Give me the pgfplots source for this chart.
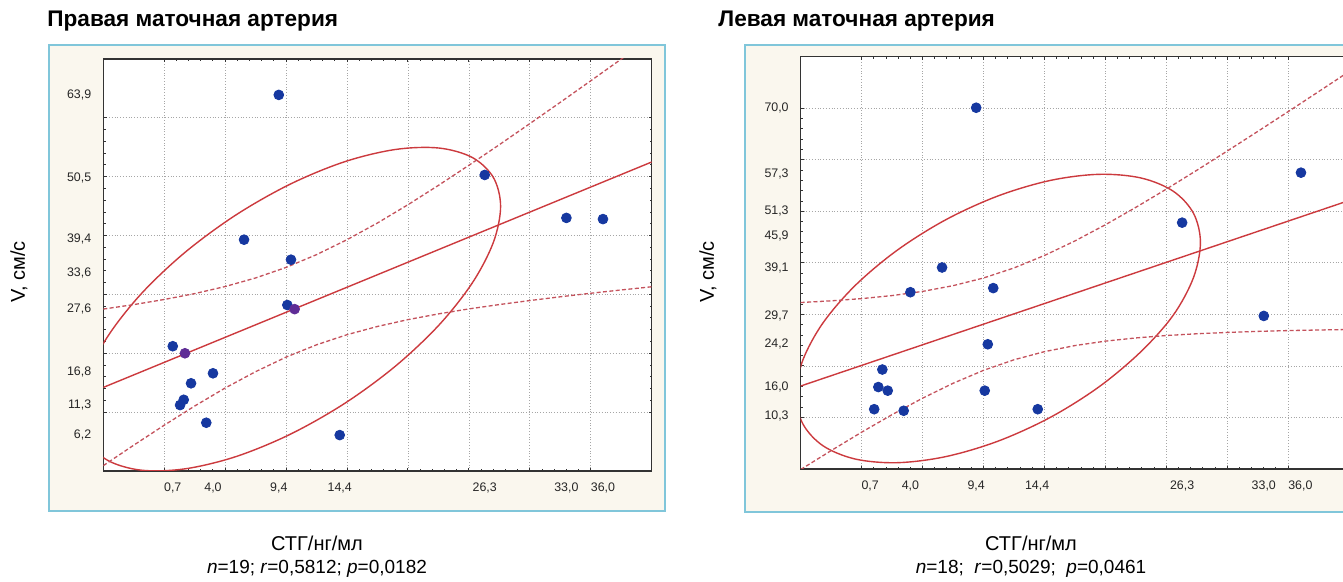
\documentclass[border=0pt]{standalone}
\usepackage{fontspec}
\setmainfont{Liberation Sans}
\usepackage{pgfplots}
\pgfplotsset{compat=1.18}
\definecolor{redline}{RGB}{204,58,62}
\definecolor{reddash}{RGB}{196,82,92}
\definecolor{dotblue}{RGB}{22,56,160}
\definecolor{dotpurple}{RGB}{95,45,150}
\definecolor{boxblue}{RGB}{128,198,218}
\definecolor{cream}{RGB}{250,247,238}
\pgfplotsset{
  statplot/.style={
    scale only axis, width=274.2pt,
    xmin=-5, xmax=40, ymin=0,
    xtick={0,5,...,35}, xticklabels={},
    yticklabels={},
    minor x tick num=4, minor y tick num=4,
    tick align=inside, major tick length=1.6pt, minor tick length=1.1pt,
    xmajorgrids, ymajorgrids,
    grid style={densely dotted, black!35, line width=0.4pt},
    axis line style={black!80, line width=0.7pt},
    tick style={black!80, line width=0.5pt},
    axis background/.style={fill=white},
    extra x ticks={0.7,4.0,9.4,14.4,26.3,33.0,36.0},
    extra x tick labels={{0,7},{4,0},{9,4},{14,4},{26,3},{33,0},{36,0}},
    extra x tick style={grid=none, major tick length=0pt, xticklabel style={yshift=-2.5pt}},
    extra y tick style={grid=none, major tick length=0pt, yticklabel style={xshift=-2.5pt}},
    ticklabel style={font=\fontsize{6.2}{7}\selectfont, text=black!85},
    clip=true,
  },
  regline/.style={redline, line width=0.7pt},
  bandline/.style={reddash, line width=0.65pt, dash pattern=on 2pt off 1.2pt},
  ellipse/.style={redline, line width=0.7pt, smooth cycle, tension=0.55},
  dots/.style={only marks, mark=*, mark size=2.45pt, color=dotblue},
}
\begin{document}
\begin{tikzpicture}
\useasboundingbox (0,0) rectangle (671.5pt,291pt);
\clip (0,0) rectangle (671.5pt,291pt);
% ---------- left panel ----------
\node[anchor=west, inner sep=0pt, font=\fontsize{11.3}{13}\selectfont\bfseries] at (23.5pt,280.5pt) {Правая маточная артерия};
\draw[boxblue, line width=1pt, fill=cream] (24.5pt,35.5pt) rectangle (332.5pt,268.25pt);
\node[rotate=90, font=\fontsize{10}{12}\selectfont] at (9.5pt,155pt) {V, см/с};
\node[font=\fontsize{10}{12}\selectfont] at (158.5pt,19.5pt) {СТГ/нг/мл};
\node[font=\fontsize{9.5}{11}\selectfont] at (158.5pt,6.5pt) {\textit{n}=19; \textit{r}=0,5812; \textit{p}=0,0182};
\begin{axis}[statplot, at={(51.65pt,55.5pt)}, anchor=south west, height=206pt,
  ymax=70, ytick={10,20,...,60},
  extra y ticks={6.2,11.3,16.8,27.6,33.6,39.4,49.8,63.9},
  extra y tick labels={{6,2},{11,3},{16,8},{27,6},{33,6},{39,4},{50,5},{63,9}},
]
\addplot[ellipse] coordinates {
(27.60,44.96) (27.01,49.86) (25.29,53.25) (22.55,54.87) (18.98,54.63) (14.81,52.55)
(10.35,48.75) (5.89,43.51) (1.72,37.17) (-1.85,30.19) (-4.59,23.01) (-6.31,16.14)
(-6.90,10.04) (-6.31,5.14) (-4.59,1.75) (-1.85,0.13) (1.72,0.37) (5.89,2.45)
(10.35,6.25) (14.81,11.49) (18.98,17.83) (22.55,24.81) (25.29,31.99) (27.01,38.86)};
\addplot[bandline] coordinates {
(-5,27.51) (-2.5,28.27) (0,29.14) (2.5,30.14) (5,31.34) (7.5,32.80) (10,34.59)
(12.5,36.76) (15,39.30) (17.5,42.14) (20,45.24) (22.5,48.53) (25,51.94) (27.5,55.44)
(30,59.02) (32.5,62.64) (35,66.30) (37.5,69.98) (40,73.70)};
\addplot[bandline] coordinates {
(-5,0.91) (-2.5,4.39) (0,7.78) (2.5,11.04) (5,14.10) (7.5,16.88) (10,19.35)
(12.5,21.44) (15,23.16) (17.5,24.56) (20,25.72) (22.5,26.69) (25,27.54) (27.5,28.28)
(30,28.96) (32.5,29.60) (35,30.20) (37.5,30.76) (40,31.30)};
\addplot[regline] coordinates {(-5,14.2) (40,52.5)};
\addplot[dots] coordinates {
(9.4,63.9) (6.55,39.3) (10.4,35.9) (10.1,28.2) (0.7,21.2) (2.2,14.9) (4.0,16.6)
(1.3,11.2) (1.6,12.1) (3.45,8.2) (14.4,6.1) (26.3,50.3) (33.0,43.0) (36.0,42.8)};
\addplot[dots, color=dotpurple] coordinates {(10.7,27.5) (1.7,20.0)};
\end{axis}
% ---------- right panel ----------
\node[anchor=west, inner sep=0pt, font=\fontsize{11.3}{13}\selectfont\bfseries] at (359pt,280.5pt) {Левая маточная артерия};
\draw[boxblue, line width=1pt, fill=cream] (372.5pt,35.15pt) rectangle (690pt,268.5pt);
\node[rotate=90, font=\fontsize{10}{12}\selectfont] at (354pt,155pt) {V, см/с};
\node[font=\fontsize{10}{12}\selectfont] at (515.5pt,19.5pt) {СТГ/нг/мл};
\node[font=\fontsize{9.5}{11}\selectfont] at (515.5pt,6.5pt) {\textit{n}=18;\ \ \textit{r}=0,5029;\ \ \textit{p}=0,0461};
\begin{axis}[statplot, at={(400.35pt,56.5pt)}, anchor=south west, height=206.15pt,
  ymax=80, ytick={10,20,...,70},
  extra y ticks={10.3,16.0,24.2,29.7,39.1,45.2,50.1,57.3,70.0},
  extra y tick labels={{10,3},{16,0},{24,2},{29,7},{39,1},{45,9},{51,3},{57,3},{70,0}},
]
\addplot[ellipse] coordinates {
(27.80,43.96) (27.23,49.62) (25.58,53.88) (22.94,56.46) (19.50,57.18) (15.50,56.00)
(11.20,52.99) (6.90,48.36) (2.90,42.42) (-0.54,35.58) (-3.18,28.32) (-4.83,21.10)
(-5.40,14.44) (-4.83,8.78) (-3.18,4.52) (-0.54,1.94) (2.90,1.22) (6.90,2.40)
(11.20,5.41) (15.50,10.04) (19.50,15.98) (22.94,22.82) (25.58,29.88) (27.23,37.14)};
\addplot[bandline] coordinates {
(-5,32.30) (-2.5,32.63) (0,33.06) (2.5,33.65) (5,34.46) (7.5,35.57) (10,37.06)
(12.5,39.01) (15,41.43) (17.5,44.25) (20,47.39) (22.5,50.77) (25,54.30) (27.5,57.96)
(30,61.70) (32.5,65.50) (35,69.34) (37.5,73.23) (40,77.13)};
\addplot[bandline] coordinates {
(-5,-0.10) (-2.5,3.57) (0,7.14) (2.5,10.55) (5,13.74) (7.5,16.63) (10,19.14)
(12.5,21.19) (15,22.77) (17.5,23.95) (20,24.81) (22.5,25.43) (25,25.90) (27.5,26.24)
(30,26.50) (32.5,26.70) (35,26.86) (37.5,26.97) (40,27.07)};
\addplot[regline] coordinates {(-5,16.1) (40,52.1)};
\addplot[dots] coordinates {
(9.4,70.1) (6.6,39.1) (4.0,34.3) (10.8,35.1) (33.0,29.7) (10.35,24.2) (1.7,19.3)
(1.37,15.9) (2.14,15.2) (1.03,11.6) (3.45,11.3) (10.1,15.2) (14.45,11.6)
(36.05,57.5) (26.3,47.8)};
\end{axis}
\end{tikzpicture}
\end{document}
